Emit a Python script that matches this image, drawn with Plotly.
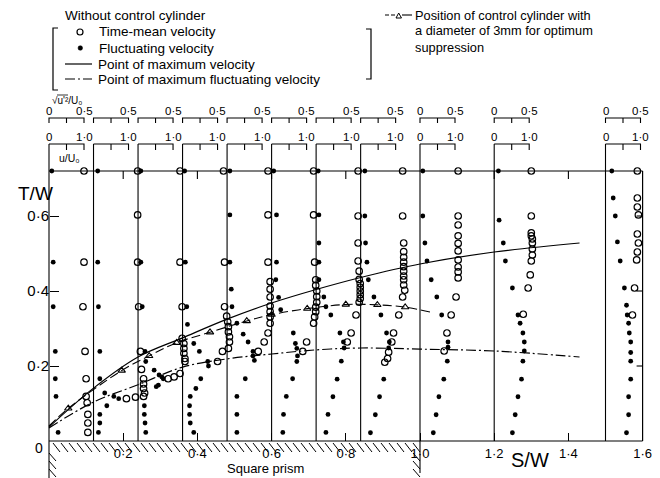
import numpy as np
import plotly.graph_objects as go

FONT = "Liberation Sans"
INK = "black"

# Traverse stations along the prism (S/W) and in the near wake
station_sw = [0.0, 0.12, 0.24, 0.36, 0.48, 0.60, 0.72, 0.84, 1.00, 1.20, 1.50]

# Time-mean velocity u/U0 profiles: heights T/W and values, one list per station
mean_T = [
    [0.72, 0.477, 0.358, 0.239, 0.166, 0.119, 0.102, 0.071, 0.048, 0.023],
    [0.72, 0.603, 0.477, 0.358, 0.239, 0.191, 0.166, 0.152, 0.14, 0.128, 0.119, 0.117, 0.113],
    [0.72, 0.477, 0.358, 0.274, 0.26, 0.247, 0.234, 0.22, 0.212, 0.18, 0.171, 0.166],
    [0.72, 0.477, 0.358, 0.333, 0.318, 0.305, 0.291, 0.278, 0.264, 0.247, 0.239, 0.212],
    [0.72, 0.603, 0.477, 0.425, 0.405, 0.384, 0.36, 0.345, 0.331, 0.314, 0.288, 0.264, 0.239],
    [0.72, 0.603, 0.477, 0.43, 0.415, 0.4, 0.385, 0.37, 0.357, 0.345, 0.331, 0.314, 0.264, 0.239],
    [0.72, 0.6, 0.528, 0.48, 0.453, 0.431, 0.42, 0.41, 0.4, 0.39, 0.38, 0.37, 0.336, 0.288, 0.264],
    [0.72, 0.6, 0.528, 0.505, 0.49, 0.477, 0.465, 0.453, 0.44, 0.43, 0.416, 0.402, 0.384, 0.336,
     0.288, 0.264, 0.237, 0.22, 0.21],
    [0.72, 0.6, 0.576, 0.547, 0.527, 0.507, 0.483, 0.464, 0.451, 0.435, 0.384, 0.336, 0.288, 0.24],
    [0.72, 0.6, 0.555, 0.547, 0.539, 0.528, 0.512, 0.496, 0.48, 0.443, 0.408, 0.338],
    [0.72, 0.648, 0.624, 0.603, 0.552, 0.528, 0.504, 0.483, 0.408, 0.336],
]
mean_u = [
    [1.0, 1.0, 0.97, 1.03, 1.06, 1.06, 1.09, 1.11, 1.11, 1.11],
    [1.26, 1.26, 1.26, 1.29, 1.34, 1.37, 1.43, 1.43, 1.43, 1.46, 1.43, 1.2, 0.94],
    [1.2, 1.2, 1.26, 1.26, 1.31, 1.31, 1.31, 1.34, 1.34, 1.2, 1.03, 0.86],
    [1.17, 1.2, 1.2, 1.26, 1.29, 1.31, 1.31, 1.34, 1.34, 1.31, 1.14, 1.0],
    [1.17, 1.17, 1.17, 1.23, 1.23, 1.23, 1.23, 1.23, 1.23, 1.23, 1.17, 1.06, 0.89],
    [1.2, 1.2, 1.23, 1.26, 1.26, 1.29, 1.29, 1.29, 1.26, 1.26, 1.23, 1.2, 1.0, 0.89],
    [1.2, 1.2, 1.2, 1.2, 1.23, 1.23, 1.26, 1.26, 1.26, 1.26, 1.26, 1.23, 1.14, 1.0, 0.89],
    [1.2, 1.2, 1.23, 1.23, 1.23, 1.23, 1.23, 1.23, 1.23, 1.23, 1.23, 1.26, 1.2, 1.09,
     0.94, 0.89, 0.8, 0.77, 0.69],
    [1.09, 1.09, 1.09, 1.09, 1.09, 1.09, 1.09, 1.09, 1.09, 1.09, 1.03, 0.89, 0.77, 0.69],
    [1.06, 1.06, 1.06, 1.06, 1.09, 1.09, 1.09, 1.09, 1.06, 1.03, 0.97, 0.83],
    [0.91, 0.91, 0.91, 0.94, 0.91, 0.94, 0.91, 0.89, 0.83, 0.77],
]

# Fluctuating velocity sqrt(u'^2)/U0 profiles
fluc_T = [
    [0.72, 0.477, 0.358, 0.239, 0.166, 0.119, 0.023],
    [0.72, 0.477, 0.358, 0.239, 0.166, 0.128, 0.119, 0.113, 0.094, 0.071, 0.048, 0.023],
    [0.72, 0.477, 0.358, 0.239, 0.212, 0.189, 0.176, 0.171, 0.166, 0.149, 0.145, 0.094, 0.071, 0.048, 0.023],
    [0.72, 0.477, 0.358, 0.311, 0.26, 0.239, 0.212, 0.2, 0.166, 0.14, 0.119, 0.094, 0.071, 0.048, 0.023],
    [0.72, 0.603, 0.477, 0.405, 0.358, 0.314, 0.285, 0.264, 0.239, 0.227, 0.215, 0.166, 0.119, 0.071, 0.023],
    [0.72, 0.603, 0.477, 0.43, 0.383, 0.35, 0.288, 0.26, 0.247, 0.227, 0.212, 0.166, 0.119, 0.071, 0.023],
    [0.72, 0.603, 0.528, 0.477, 0.43, 0.384, 0.358, 0.336, 0.288, 0.264, 0.248, 0.213, 0.165, 0.118, 0.071, 0.023],
    [0.72, 0.6, 0.528, 0.477, 0.43, 0.384, 0.336, 0.288, 0.264, 0.248, 0.165, 0.118, 0.07, 0.022],
    [0.72, 0.6, 0.528, 0.48, 0.43, 0.384, 0.336, 0.264, 0.25, 0.213, 0.165, 0.118, 0.07, 0.022],
    [0.72, 0.589, 0.528, 0.48, 0.408, 0.336, 0.314, 0.288, 0.264, 0.24, 0.213, 0.165, 0.118, 0.07, 0.022],
    [0.72, 0.648, 0.6, 0.531, 0.48, 0.408, 0.362, 0.336, 0.314, 0.288, 0.264, 0.236, 0.213, 0.165,
     0.118, 0.07, 0.022],
]
fluc_f = [
    [0.04, 0.06, 0.06, 0.09, 0.09, 0.10, 0.13],
    [0.06, 0.06, 0.07, 0.09, 0.09, 0.16, 0.29, 0.36, 0.19, 0.09, 0.09, 0.07],
    [0.04, 0.04, 0.06, 0.1, 0.11, 0.23, 0.3, 0.34, 0.36, 0.29, 0.26, 0.09, 0.09, 0.1, 0.11],
    [0.03, 0.04, 0.06, 0.07, 0.16, 0.24, 0.36, 0.37, 0.26, 0.19, 0.11, 0.1, 0.1, 0.11, 0.16],
    [0.04, 0.04, 0.04, 0.06, 0.07, 0.14, 0.23, 0.3, 0.37, 0.37, 0.39, 0.26, 0.14, 0.14, 0.14],
    [0.03, 0.07, 0.07, 0.06, 0.1, 0.13, 0.31, 0.34, 0.36, 0.37, 0.36, 0.3, 0.21, 0.17, 0.16],
    [0.03, 0.04, 0.04, 0.04, 0.04, 0.11, 0.14, 0.21, 0.34, 0.39, 0.4, 0.36, 0.3, 0.24, 0.17, 0.14],
    [0.06, 0.06, 0.07, 0.09, 0.11, 0.19, 0.29, 0.37, 0.41, 0.4, 0.33, 0.27, 0.21, 0.14],
    [0.04, 0.04, 0.07, 0.1, 0.16, 0.24, 0.31, 0.4, 0.4, 0.39, 0.34, 0.27, 0.23, 0.19],
    [0.06, 0.07, 0.13, 0.16, 0.26, 0.34, 0.37, 0.41, 0.43, 0.43, 0.41, 0.39, 0.34, 0.3, 0.26],
    [0.09, 0.11, 0.14, 0.17, 0.21, 0.27, 0.3, 0.31, 0.33, 0.34, 0.36, 0.36, 0.36, 0.36, 0.33, 0.33, 0.3],
]

# Loci of the maxima and the optimum control-cylinder positions
max_vel_sw = [0.0, 0.12, 0.24, 0.36, 0.48, 0.60, 0.72, 0.84, 1.00, 1.20, 1.43]
max_vel_T = [0.037, 0.141, 0.224, 0.275, 0.325, 0.368, 0.404, 0.436, 0.472, 0.504, 0.528]
max_fluc_sw = [0.0, 0.12, 0.24, 0.36, 0.48, 0.60, 0.72, 0.84, 1.00, 1.20, 1.43]
max_fluc_T = [0.035, 0.104, 0.15, 0.197, 0.219, 0.232, 0.243, 0.248, 0.245, 0.24, 0.224]
cyl_sw = [0.052, 0.196, 0.27, 0.344, 0.434, 0.533, 0.60, 0.696, 0.80, 0.885, 0.96]
cyl_T = [0.087, 0.188, 0.227, 0.262, 0.29, 0.32, 0.337, 0.353, 0.364, 0.363, 0.357]
cyl_line_sw = [0.0] + cyl_sw + [1.027]
cyl_line_T = [0.04] + cyl_T + [0.344]

x_tick_vals = [0.2, 0.4, 0.6, 0.8, 1.0, 1.2, 1.4, 1.6]
x_tick_text = ["0·2", "0·4", "0·6", "0·8", "1·0", "1·2", "1·4", "1·6"]
y_tick_vals = [0.2, 0.4, 0.6]
y_tick_text = ["0·2", "0·4", "0·6"]
ruler_ticks = [0.2, 0.4, 0.6, 0.8, 1.2, 1.4]
zero_labelled = [0, 8, 9, 10]

# Geometry of the drawing
W, H = 660, 478
X0_PX, X_PER = 49, 371.0      # pixel of S/W=0 and pixels per unit S/W
Y0_PX, Y_PER = 441, 375.0     # pixel of T/W=0 and pixels per unit T/W
PX = 1 / X_PER
PY = 1 / Y_PER
U_SPAN = 35 * PX              # S/W length of u/U0 = 1.0 on each profile
F_SPAN = 70 * PX              # S/W length of sqrt(u'^2)/U0 = 1.0
T_TOP = 0.72
S_END = 1.6
T_B1 = (Y0_PX - 118) * PY     # fluctuation scale bar
T_B2 = (Y0_PX - 144) * PY     # mean velocity scale bar
T_MIN = (Y0_PX - H) * PY

LW = 1.2
fig = go.Figure()


def add_lines(xs, ys, width=LW, dash="solid", shape="linear"):
    fig.add_trace(go.Scatter(x=xs, y=ys, mode="lines", hoverinfo="skip",
                             line=dict(color=INK, width=width, dash=dash, shape=shape)))


# frame: floor, free-stream line, right wall
add_lines([0, S_END, None, 0, S_END, None, S_END, S_END],
          [0, 0, None, T_TOP, T_TOP, None, 0, T_TOP])

# traverse lines with their two scale bars
sx, sy = [], []
for i, s in enumerate(station_sw):
    bottom = T_MIN if s == 0.0 else (-0.085 if s == 1.0 else 0.0)
    sx += [s, s, None]
    sy += [bottom, T_B2, None]
    # mean velocity bar 0..1.0
    sx += [s, s + U_SPAN, s + U_SPAN, None, s + 0.5 * U_SPAN, s + 0.5 * U_SPAN, None]
    sy += [T_B2, T_B2, T_B2 - 6 * PY, None, T_B2, T_B2 - 6 * PY, None]
    # fluctuation bar 0..0.5
    sx += [s, s, s + 0.5 * F_SPAN, s + 0.5 * F_SPAN, None,
           s + 0.25 * F_SPAN, s + 0.25 * F_SPAN, None]
    sy += [T_B1 - 5 * PY, T_B1, T_B1, T_B1 - 5 * PY, None, T_B1, T_B1 - 5 * PY, None]
add_lines(sx, sy, width=1.1)

# ruler ticks on the free-stream line and the right wall
rx, ry = [], []
for v in ruler_ticks:
    rx += [v, v, None]
    ry += [T_TOP, T_TOP - 8 * PY, None]
for v in y_tick_vals:
    rx += [S_END - 6 * PX, S_END, None]
    ry += [v, v, None]
add_lines(rx, ry, width=1.1)

# hatching of the square prism
hx, hy = [], []
for x0 in np.arange(4 * PX, 1.0 - 6 * PX, 8 * PX):
    hx += [x0, x0 + 7 * PX, None]
    hy += [-2 * PY, -11 * PY, None]
for y0 in np.arange(-12, -36, -8):
    hx += [0, 7 * PX, None, 1.0 - 7 * PX, 1.0, None]
    hy += [y0 * PY, (y0 - 8) * PY, None, y0 * PY, (y0 - 8) * PY, None]
add_lines(hx, hy, width=1.0)

# loci curves
add_lines(max_vel_sw, max_vel_T, width=1.2, shape="spline")
add_lines(max_fluc_sw, max_fluc_T, width=1.2, dash="10px,3px,2px,3px", shape="spline")
add_lines(cyl_line_sw, cyl_line_T, width=1.1, dash="9px,4px", shape="spline")
fig.add_trace(go.Scatter(x=cyl_sw, y=cyl_T, mode="markers", hoverinfo="skip",
                         marker=dict(symbol="triangle-up-open", size=6.5, color=INK,
                                     line=dict(width=1.1, color=INK))))

# profile points
mx, my, fx, fy = [], [], [], []
for s, tt, uu in zip(station_sw, mean_T, mean_u):
    mx += [s + u * U_SPAN for u in uu]
    my += tt
for s, tt, ff in zip(station_sw, fluc_T, fluc_f):
    fx += [s + f * F_SPAN for f in ff]
    fy += tt
fig.add_trace(go.Scatter(x=fx, y=fy, mode="markers", hoverinfo="skip",
                         marker=dict(symbol="circle", size=4.8, color=INK, line=dict(width=0))))
fig.add_trace(go.Scatter(x=mx, y=my, mode="markers", hoverinfo="skip",
                         marker=dict(symbol="circle-open", size=6.5, color=INK,
                                     line=dict(width=1.2, color=INK))))

annotations = []


def note(text, x, y, size, xanchor="left", ref="x", yref="y", yanchor="middle"):
    annotations.append(dict(text=text, x=x, y=y, xref=ref, yref=yref, showarrow=False,
                            xanchor=xanchor, yanchor=yanchor,
                            font=dict(family=FONT, size=size, color=INK)))


# scale bar labels
T_L1 = (Y0_PX - 111) * PY
T_L2 = (Y0_PX - 137) * PY
for i, s in enumerate(station_sw):
    note("0·5", s + 0.5 * F_SPAN, T_L1, 11.5, "center")
    note("1·0", s + U_SPAN, T_L2, 11.5, "center")
    if i in zero_labelled:
        note("0", s, T_L1, 11.5, "center")
        note("0", s, T_L2, 11.5, "center")


def pxp(px):
    return px / W


def pyp(py):
    return 1 - py / H


note("√u'²/U₀", pxp(50), pyp(101), 10, ref="paper", yref="paper")
note("u/U₀", pxp(57), pyp(158), 10.5, ref="paper", yref="paper")

# axis titles and labels
note("T/W", pxp(35), pyp(193), 19, "center", ref="paper", yref="paper")
note("S/W", pxp(530), pyp(460), 20, "center", ref="paper", yref="paper")
note("Square prism", pxp(265), pyp(468), 13, "center", ref="paper", yref="paper")
note("0", pxp(39), pyp(448), 14, "center", ref="paper", yref="paper")

# key
note("Without control cylinder", pxp(63), pyp(15), 13.5, ref="paper", yref="paper")
note("Time-mean velocity", pxp(97), pyp(32), 13.5, ref="paper", yref="paper")
note("Fluctuating velocity", pxp(97), pyp(48), 13.5, ref="paper", yref="paper")
note("Point of maximum velocity", pxp(96), pyp(64), 13.5, ref="paper", yref="paper")
note("Point of maximum fluctuating velocity", pxp(96), pyp(79), 13.5, ref="paper", yref="paper")
note("Position of control cylinder with", pxp(413), pyp(15), 12.8, ref="paper", yref="paper")
note("a diameter of 3mm for optimum", pxp(413), pyp(31), 12.8, ref="paper", yref="paper")
note("suppression", pxp(413), pyp(47), 12.8, ref="paper", yref="paper")


def ppath(points):
    return "M " + " L ".join(f"{pxp(a):.5f},{pyp(b):.5f}" for a, b in points)


key_line = dict(color=INK, width=1.2)
shapes = [
    # overline of the r.m.s. symbol
    dict(type="line", xref="paper", yref="paper", x0=pxp(57), x1=pxp(68), y0=pyp(95), y1=pyp(95),
         line=dict(color=INK, width=0.8)),
    dict(type="circle", xref="paper", yref="paper", x0=pxp(77), x1=pxp(83), y0=pyp(35), y1=pyp(29),
         line=dict(color=INK, width=1.2)),
    dict(type="circle", xref="paper", yref="paper", x0=pxp(78), x1=pxp(82.6), y0=pyp(50.3), y1=pyp(45.7),
         line=dict(color=INK, width=0.5), fillcolor=INK),
    dict(type="line", xref="paper", yref="paper", x0=pxp(65), x1=pxp(92), y0=pyp(64), y1=pyp(64),
         line=key_line),
    dict(type="line", xref="paper", yref="paper", x0=pxp(65), x1=pxp(92), y0=pyp(79), y1=pyp(79),
         line=dict(color=INK, width=1.2, dash="10px,3px,2px,3px")),
    dict(type="path", xref="paper", yref="paper", path=ppath([(58, 28), (53, 28), (53, 90), (58, 90)]),
         line=key_line),
    dict(type="path", xref="paper", yref="paper", path=ppath([(366, 29), (371, 29), (371, 79), (366, 79)]),
         line=key_line),
    dict(type="line", xref="paper", yref="paper", x0=pxp(385), x1=pxp(395), y0=pyp(15), y1=pyp(15),
         line=dict(color=INK, width=1.1, dash="4px,2px")),
    dict(type="line", xref="paper", yref="paper", x0=pxp(402), x1=pxp(412), y0=pyp(15), y1=pyp(15),
         line=dict(color=INK, width=1.1)),
    dict(type="path", xref="paper", yref="paper",
         path=ppath([(396, 18), (401.5, 18), (398.7, 13)]) + " Z", line=dict(color=INK, width=1)),
]

fig.update_layout(
    width=W, height=H,
    margin=dict(l=0, r=0, t=0, b=0),
    paper_bgcolor="white", plot_bgcolor="white",
    showlegend=False,
    annotations=annotations,
    shapes=shapes,
    font=dict(family=FONT, color=INK),
    xaxis=dict(range=[-X0_PX * PX, (W - X0_PX) * PX], anchor="free", position=(H - Y0_PX) / H,
               showgrid=False, zeroline=False, showline=False,
               tickvals=x_tick_vals, ticktext=x_tick_text, ticks="inside", ticklen=8,
               tickwidth=1.1, tickcolor=INK, ticklabelstandoff=3,
               tickfont=dict(family=FONT, size=13, color=INK)),
    yaxis=dict(range=[T_MIN, Y0_PX * PY], anchor="free", position=X0_PX / W,
               showgrid=False, zeroline=False, showline=False,
               tickvals=y_tick_vals, ticktext=y_tick_text, ticks="inside", ticklen=9,
               tickwidth=1.1, tickcolor=INK,
               tickfont=dict(family=FONT, size=15, color=INK)),
)

fig.write_html("out.html")
